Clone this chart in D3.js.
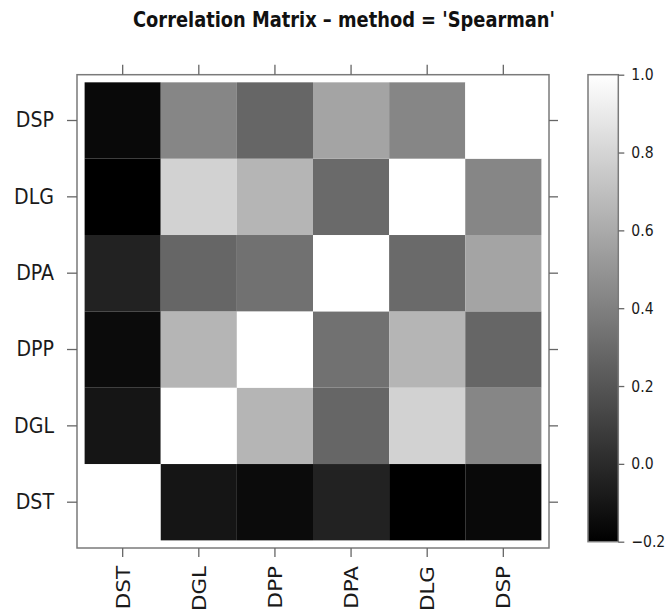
<!DOCTYPE html>
<html>
<head>
<meta charset="utf-8">
<script src="https://cdn.jsdelivr.net/npm/d3@7"></script>
<style>
  body { margin: 0; background: #fff; }
  svg { display: block; font-family: "DejaVu Sans", sans-serif; }
</style>
</head>
<body>
<svg width="665" height="614"></svg>
<script>
// variables, in column order (left to right) and row order (bottom to top)
const vars = ['DST', 'DGL', 'DPP', 'DPA', 'DLG', 'DSP'];

// spearman correlations, one row per variable (same order as vars)
const rowDST = [1.00, -0.10, -0.15, -0.04, -0.20, -0.16];
const rowDGL = [-0.10, 1.00, 0.65, 0.28, 0.79, 0.43];
const rowDPP = [-0.15, 0.65, 1.00, 0.33, 0.65, 0.28];
const rowDPA = [-0.04, 0.28, 0.33, 1.00, 0.30, 0.57];
const rowDLG = [-0.20, 0.79, 0.65, 0.30, 1.00, 0.43];
const rowDSP = [-0.16, 0.43, 0.28, 0.57, 0.43, 1.00];

const colorTicks = [-0.2, 0.0, 0.2, 0.4, 0.6, 0.8, 1.0];
const title = "Correlation Matrix \u2013 method = 'Spearman'";

const rows = [rowDST, rowDGL, rowDPP, rowDPA, rowDLG, rowDSP];
const cells = [];
rows.forEach((r, i) => r.forEach((v, j) => cells.push({ row: vars[i], col: vars[j], value: v })));

const svg = d3.select('svg');
const stretch = 1.13; // the source picture is a little taller than wide

// panel box
const px0 = 77, px1 = 549, py0 = 74.7, py1 = 548;
const pad = 0.1; // extra room around the cells, in cell units
const cw = (px1 - px0) / (vars.length + 2 * pad);
const ch = (py1 - py0) / (vars.length + 2 * pad);

const x = d3.scaleBand()
    .domain(vars)
    .range([px0 + pad * cw, px1 - pad * cw]);
const y = d3.scaleBand()
    .domain(vars)
    .range([py1 - pad * ch, py0 + pad * ch]);

const color = d3.scaleLinear()
    .domain([-0.2, 1])
    .range(['#000000', '#ffffff'])
    .clamp(true);

svg.append('g')
    .selectAll('rect')
    .data(cells)
    .join('rect')
    .attr('x', d => x(d.col))
    .attr('y', d => y(d.row))
    .attr('width', x.bandwidth())
    .attr('height', y.bandwidth())
    .attr('fill', d => color(d.value));

svg.append('rect')
    .attr('x', px0).attr('y', py0)
    .attr('width', px1 - px0).attr('height', py1 - py0)
    .attr('fill', 'none')
    .attr('stroke', '#7a7a7a')
    .attr('stroke-width', 1.5);

function styleAxis(g) {
    g.select('.domain').remove();
    g.selectAll('.tick line').attr('stroke', '#666').attr('stroke-width', 1.3);
    g.selectAll('.tick text').attr('fill', '#1a1a1a').attr('font-family', 'DejaVu Sans');
}

svg.append('g')
    .attr('transform', `translate(${px0},0)`)
    .call(d3.axisLeft(y).tickSize(10).tickPadding(13))
    .call(styleAxis)
    .selectAll('.tick text')
    .attr('font-size', 19)
    .attr('transform', `scale(1,${stretch})`);

svg.append('g')
    .attr('transform', `translate(${px1},0)`)
    .call(d3.axisRight(y).tickSize(9).tickFormat(''))
    .call(styleAxis);

svg.append('g')
    .attr('transform', `translate(0,${py0})`)
    .call(d3.axisTop(x).tickSize(10).tickFormat(''))
    .call(styleAxis);

const xAxis = svg.append('g')
    .attr('transform', `translate(0,${py1})`)
    .call(d3.axisBottom(x).tickSize(9))
    .call(styleAxis);

xAxis.selectAll('.tick text')
    .attr('font-size', 19)
    .attr('transform', `rotate(-90) scale(${stretch},1)`)
    .attr('text-anchor', 'end')
    .attr('x', -18 / stretch)
    .attr('y', 0)
    .attr('dy', '0.36em');

// colour key
const kx0 = 588, kx1 = 618.3, ky0 = 74.7, ky1 = 541.7;
const k = d3.scaleLinear().domain([-0.2, 1]).range([ky1, ky0]);

const grad = svg.append('defs').append('linearGradient')
    .attr('id', 'key')
    .attr('x1', 0).attr('y1', 1).attr('x2', 0).attr('y2', 0);
grad.selectAll('stop')
    .data(d3.range(0, 1.0001, 0.1))
    .join('stop')
    .attr('offset', d => d)
    .attr('stop-color', d => color(-0.2 + d * 1.2));

svg.append('rect')
    .attr('x', kx0).attr('y', ky0)
    .attr('width', kx1 - kx0).attr('height', ky1 - ky0)
    .attr('fill', 'url(#key)')
    .attr('stroke', '#7a7a7a')
    .attr('stroke-width', 1.5);

const keyAxis = svg.append('g')
    .attr('transform', `translate(${kx1},0)`)
    .call(d3.axisRight(k).tickValues(colorTicks).tickFormat(d3.format('.1f')).tickSize(6).tickPadding(7))
    .call(styleAxis);
keyAxis.selectAll('.tick text')
    .attr('font-size', 14)
    .attr('transform', `scale(1,${stretch})`);

svg.append('text')
    .attr('transform', `translate(344,27) scale(1,${stretch})`)
    .attr('text-anchor', 'middle')
    .attr('font-size', 19)
    .attr('font-weight', 'bold')
    .attr('fill', '#111')
    .attr('textLength', 422)
    .attr('lengthAdjust', 'spacingAndGlyphs')
    .text(title);
</script>
</body>
</html>
